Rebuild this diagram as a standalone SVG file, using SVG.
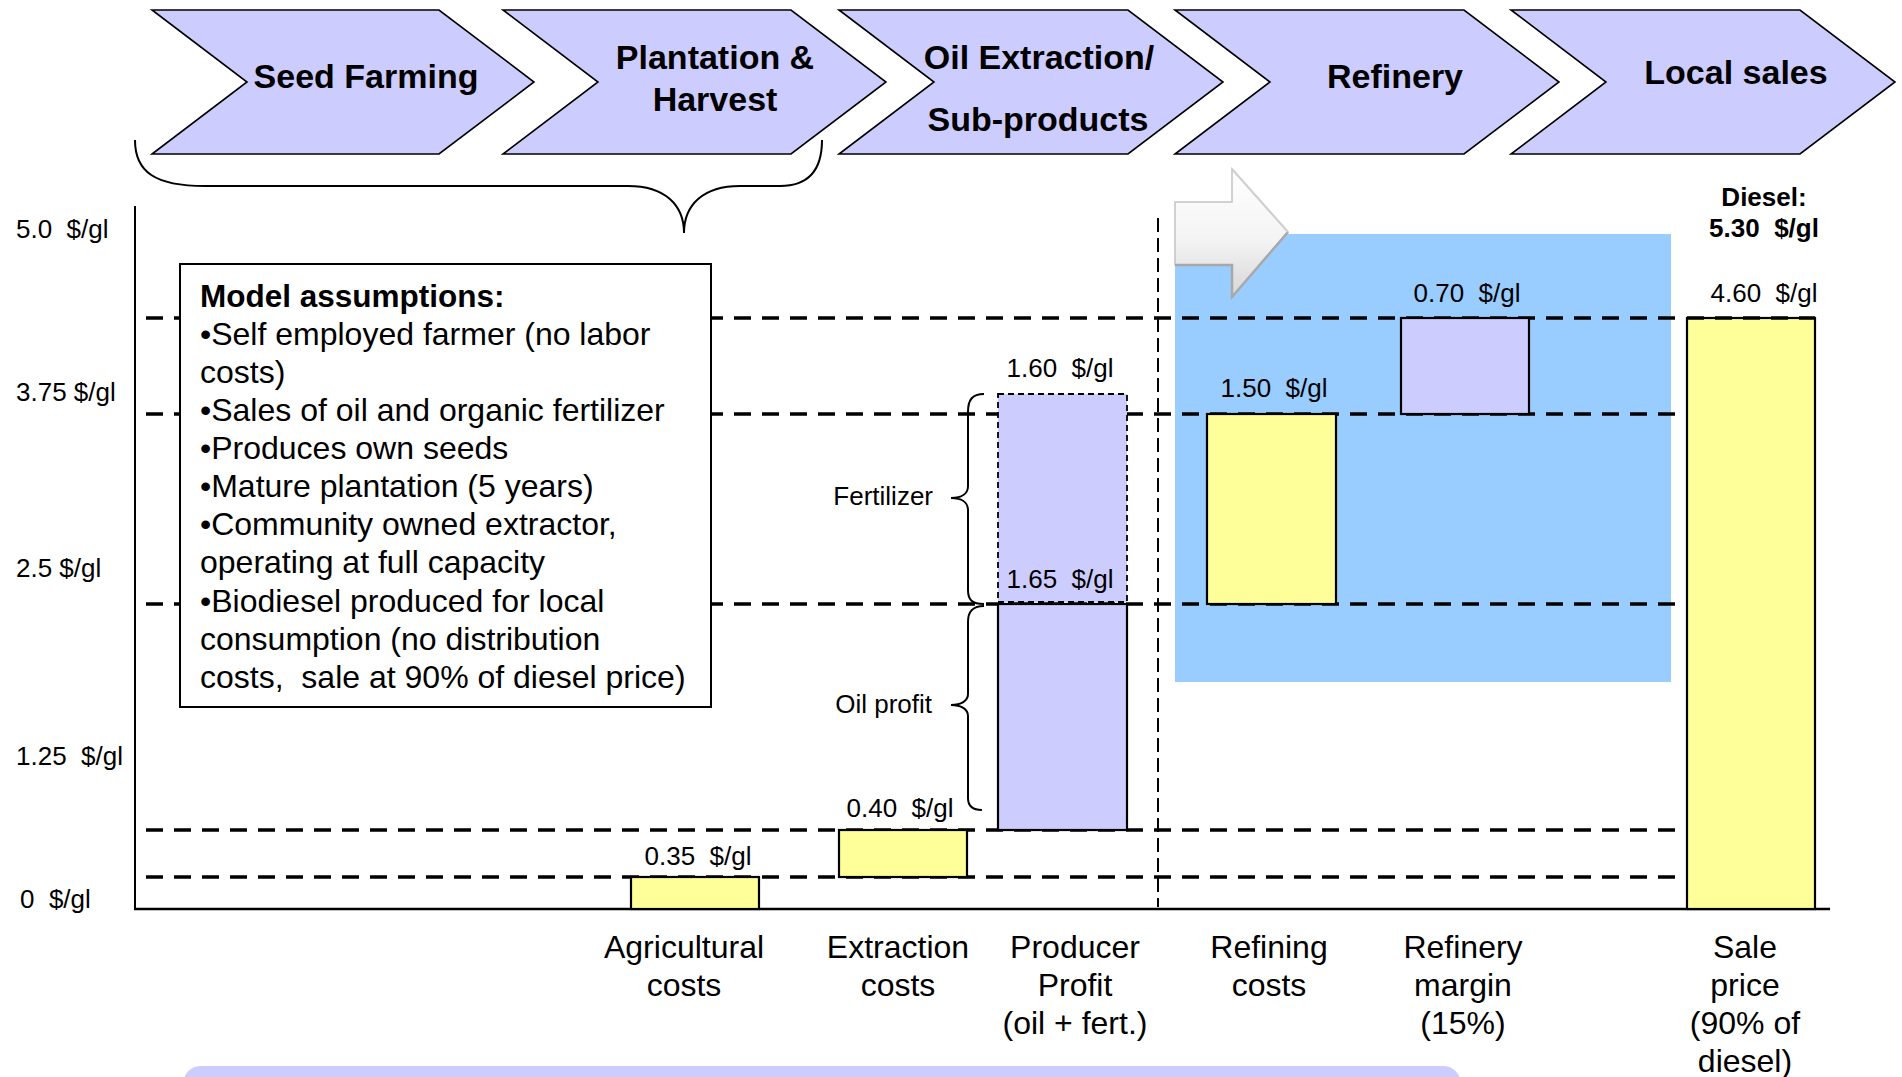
<svg xmlns="http://www.w3.org/2000/svg" width="1902" height="1077" viewBox="0 0 1902 1077">
<defs>
<style>
text{white-space:pre}
.chev{fill:#CCCCFF;stroke:#000;stroke-width:1.6;stroke-linejoin:miter}
.ct{font-family:"Liberation Sans",Arial,sans-serif;font-weight:bold;font-size:34px;fill:#000;text-anchor:middle}
.ax{font-family:"Liberation Sans",Arial,sans-serif;font-size:26px;fill:#000}
.val{font-family:"Liberation Sans",Arial,sans-serif;font-size:26px;fill:#000;text-anchor:middle}
.vb{font-family:"Liberation Sans",Arial,sans-serif;font-size:26px;font-weight:bold;fill:#000;text-anchor:middle}
.cat{font-family:"Liberation Sans",Arial,sans-serif;font-size:32px;fill:#000;text-anchor:middle}
.box{font-family:"Liberation Sans",Arial,sans-serif;font-size:32px;fill:#000}
.boxt{font-family:"Liberation Sans",Arial,sans-serif;font-size:31.5px;font-weight:bold;fill:#000}
.hd{stroke:#000;stroke-width:3.5;stroke-dasharray:17 11;fill:none}
.yb{fill:#FFFF99;stroke:#000;stroke-width:2.2}
.lb{fill:#CCCCFF;stroke:#000;stroke-width:2.2}
.br{fill:none;stroke:#000;stroke-width:2}
</style>
<linearGradient id="arrG" x1="0" y1="0" x2="0" y2="1">
<stop offset="0" stop-color="#ffffff"/>
<stop offset="0.55" stop-color="#f4f4f4"/>
<stop offset="1" stop-color="#d6d6d6"/>
</linearGradient>
</defs>
<rect x="0" y="0" width="1902" height="1077" fill="#ffffff"/>

<g id="chevron-seed-farming">
<path class="chev" d="M152,10 L439,10 L534,82 L439,154 L152,154 L247,82 Z"/>
<text class="ct" x="366" y="88">Seed Farming</text>
</g>
<g id="chevron-plantation">
<path class="chev" d="M503,10 L791,10 L886,82 L791,154 L503,154 L598,82 Z"/>
<text class="ct" x="715" y="69">Plantation &amp;</text>
<text class="ct" x="715" y="111">Harvest</text>
</g>
<g id="chevron-oil-extraction">
<path class="chev" d="M839,10 L1128,10 L1223,82 L1128,154 L839,154 L934,82 Z"/>
<text class="ct" x="1039" y="69">Oil Extraction/</text>
<text class="ct" x="1038" y="131">Sub-products</text>
</g>
<g id="chevron-refinery">
<path class="chev" d="M1175,10 L1464,10 L1559,82 L1464,154 L1175,154 L1270,82 Z"/>
<text class="ct" x="1395" y="88">Refinery</text>
</g>
<g id="chevron-local-sales">
<path class="chev" d="M1511,10 L1800,10 L1895,82 L1800,154 L1511,154 L1606,82 Z"/>
<text class="ct" x="1736" y="84">Local sales</text>
</g>

<g id="brace-farming">
<path class="br" d="M135,140 C135,172 155,186 205,186 L628,186 C665,186 684,205 684,233 C684,205 703,186 740,186 L780,186 C808,186 822,170 822,140"/>
</g>

<g id="refinery-region">
<rect x="1175" y="234" width="496" height="448" fill="#99CCFF"/>
</g>

<g id="arrow-3d">
<path d="M1175,202 L1232,202 L1232,169 L1288,232 L1232,297 L1232,265 L1175,265 Z" fill="url(#arrG)" stroke="#c4c4c4" stroke-width="1.5"/>
<path d="M1175,265 L1232,265 L1232,297 L1288,232" fill="none" stroke="#a8a8a8" stroke-width="2.5"/>
<path d="M1232,169 L1288,232" fill="none" stroke="#d0d0d0" stroke-width="2"/>
</g>

<g id="axes">
<line x1="135" y1="206" x2="135" y2="910" stroke="#000" stroke-width="2"/>
<line x1="134" y1="909" x2="1830" y2="909" stroke="#000" stroke-width="2.5"/>
<text class="ax" x="16" y="238">5.0  $/gl</text>
<text class="ax" x="16" y="401">3.75 $/gl</text>
<text class="ax" x="16" y="577">2.5 $/gl</text>
<text class="ax" x="16" y="765">1.25  $/gl</text>
<text class="ax" x="20" y="908">0  $/gl</text>
</g>

<g id="connectors">
<line class="hd" x1="146" y1="318" x2="1676" y2="318"/>
<line class="hd" x1="146" y1="414" x2="1676" y2="414"/>
<line class="hd" x1="146" y1="604" x2="1676" y2="604"/>
<line class="hd" x1="146" y1="830" x2="1676" y2="830"/>
<line class="hd" x1="146" y1="877" x2="1676" y2="877"/>
<line x1="1158" y1="218" x2="1158" y2="907" stroke="#000" stroke-width="2" stroke-dasharray="14 6"/>
</g>

<g id="assumptions-box">
<rect x="180" y="264" width="531" height="443" fill="#ffffff" stroke="#000" stroke-width="2"/>
<text class="boxt" x="200" y="307">Model assumptions:</text>
<text class="box" x="200" y="345">•Self employed farmer (no labor</text>
<text class="box" x="200" y="383">costs)</text>
<text class="box" x="200" y="421">•Sales of oil and organic fertilizer</text>
<text class="box" x="200" y="459">•Produces own seeds</text>
<text class="box" x="200" y="497">•Mature plantation (5 years)</text>
<text class="box" x="200" y="535">•Community owned extractor,</text>
<text class="box" x="200" y="573">operating at full capacity</text>
<text class="box" x="200" y="612">•Biodiesel produced for local</text>
<text class="box" x="200" y="650">consumption (no distribution</text>
<text class="box" x="200" y="688">costs,  sale at 90% of diesel price)</text>
</g>

<g id="bar-agricultural">
<rect class="yb" x="631" y="877" width="128" height="32"/>
<text class="val" x="698" y="865">0.35  $/gl</text>
<text class="cat" x="684" y="958"><tspan x="684">Agricultural</tspan><tspan x="684" y="996">costs</tspan></text>
</g>

<g id="bar-extraction">
<rect class="yb" x="839" y="830" width="128" height="47"/>
<text class="val" x="900" y="817">0.40  $/gl</text>
<text class="cat" x="898" y="958"><tspan x="898">Extraction</tspan><tspan x="898" y="996">costs</tspan></text>
</g>

<g id="bar-producer-profit">
<rect x="998" y="394" width="129" height="208" fill="#CCCCFF" stroke="#000" stroke-width="1.8" stroke-dasharray="6 4"/>
<rect class="lb" x="998" y="604" width="129" height="226"/>
<text class="val" x="1060" y="377">1.60  $/gl</text>
<text class="val" x="1060" y="588">1.65  $/gl</text>
<path class="br" d="M984,394 C972,394 968,400 968,412 L968,486 C968,494 961,498 951,498 C961,498 968,502 968,510 L968,590 C968,600 972,604 984,604"/>
<path class="br" d="M984,606 C972,606 968,612 968,622 L968,694 C968,701 961,705 951,705 C961,705 968,709 968,716 L968,798 C968,806 972,810 982,810"/>
<text class="val" x="933" y="505" style="text-anchor:end">Fertilizer</text>
<text class="val" x="932" y="713" style="text-anchor:end">Oil profit</text>
<text class="cat" x="1075" y="958"><tspan x="1075">Producer</tspan><tspan x="1075" y="996">Profit</tspan><tspan x="1075" y="1034">(oil + fert.)</tspan></text>
</g>

<g id="bar-refining">
<rect class="yb" x="1207" y="414" width="129" height="190"/>
<text class="val" x="1274" y="397">1.50  $/gl</text>
<text class="cat" x="1269" y="958"><tspan x="1269">Refining</tspan><tspan x="1269" y="996">costs</tspan></text>
</g>

<g id="bar-refinery-margin">
<rect class="lb" x="1401" y="318" width="128" height="96"/>
<text class="val" x="1467" y="302">0.70  $/gl</text>
<text class="cat" x="1463" y="958"><tspan x="1463">Refinery</tspan><tspan x="1463" y="996">margin</tspan><tspan x="1463" y="1034">(15%)</tspan></text>
</g>

<g id="bar-sale-price">
<rect class="yb" x="1687" y="318" width="128" height="591"/>
<line class="hd" x1="1687" y1="318" x2="1815" y2="318"/>
<text class="vb" x="1764" y="206">Diesel:</text>
<text class="vb" x="1764" y="237">5.30  $/gl</text>
<text class="val" x="1764" y="302">4.60  $/gl</text>
<text class="cat" x="1745" y="958"><tspan x="1745">Sale</tspan><tspan x="1745" y="996">price</tspan><tspan x="1745" y="1034">(90% of</tspan><tspan x="1745" y="1072">diesel)</tspan></text>
</g>

<g id="bottom-banner">
<rect x="183" y="1066" width="1278" height="40" rx="18" fill="#CCCCFF"/>
</g>
</svg>
